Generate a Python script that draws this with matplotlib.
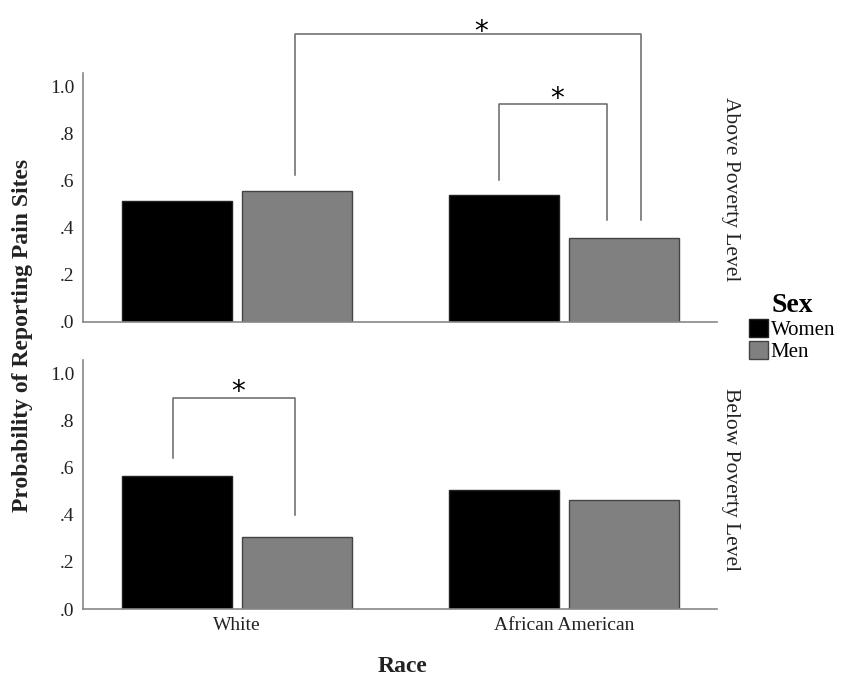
import numpy as np
import matplotlib
matplotlib.use('Agg')
import matplotlib.pyplot as plt
from matplotlib.patches import Patch

plt.rcParams['font.family'] = 'Liberation Serif'

# data
races = ['White', 'African American']
panels = ['Above Poverty Level', 'Below Poverty Level']
women_above = [0.513, 0.538]
men_above = [0.555, 0.356]
women_below = [0.565, 0.506]
men_below = [0.304, 0.460]
ytick_vals = [0.0, 0.2, 0.4, 0.6, 0.8, 1.0]
ytick_labels = ['.0', '.2', '.4', '.6', '.8', '1.0']

c_women = '#000000'
c_men = '#808080'
c_line = '#666666'

fig = plt.figure(figsize=(8.43, 6.77), dpi=100)
ax_top = fig.add_axes([0.0985, 0.5244, 0.752, 0.3676])
ax_bot = fig.add_axes([0.0985, 0.1004, 0.752, 0.3678])

x = np.arange(len(races))
w = 0.336
off = 0.184

def draw_panel(ax, women, men, label, show_x, ly):
    ax.bar(x - off, women, w, color=c_women, edgecolor='#222222', linewidth=1)
    ax.bar(x + off, men, w, color=c_men, edgecolor='#444444', linewidth=1)
    ax.set_xlim(-0.471, 1.468)
    ax.set_ylim(0, 1.055)
    ax.set_yticks(ytick_vals)
    ax.set_yticklabels(ytick_labels, fontsize=14, color='#222222')
    ax.set_xticks(x)
    if show_x:
        ax.set_xticklabels(races, fontsize=14, color='#222222')
    else:
        ax.set_xticklabels([])
    ax.tick_params(length=0, pad=6)
    for s in ['top', 'right']:
        ax.spines[s].set_visible(False)
    for s in ['left', 'bottom']:
        ax.spines[s].set_color('#888888')
        ax.spines[s].set_linewidth(1.2)
    ax.text(1.022, ly, label, transform=ax.transAxes, rotation=270,
            ha='center', va='center', fontsize=15.5, color='#222222')

def bracket(ax, x0, x1, y, y0, y1, sx, sy):
    ax.plot([x0, x0, x1, x1], [y0, y, y, y1], color=c_line, lw=1.1, clip_on=False)
    ax.text(sx, sy, '*', ha='center', va='center', fontsize=20,
            fontfamily='DejaVu Sans', clip_on=False)

draw_panel(ax_top, women_above, men_above, panels[0], False, 0.535)
draw_panel(ax_bot, women_below, men_below, panels[1], True, 0.52)

# significance brackets
bracket(ax_top, 0.177, 1.235, 1.22, 0.623, 0.432, 0.746, 1.23)
bracket(ax_top, 0.801, 1.131, 0.924, 0.60, 0.432, 0.979, 0.945)
bracket(ax_bot, -0.196, 0.177, 0.895, 0.641, 0.397, 0.003, 0.918)

fig.text(0.027, 0.505, 'Probability of Reporting Pain Sites', rotation=90,
         ha='center', va='center', fontsize=17, fontweight='bold', color='#222222')
fig.text(0.477, 0.015, 'Race', ha='center', va='center', fontsize=17,
         fontweight='bold', color='#222222')

# legend
handles = [Patch(facecolor=c_women, edgecolor='#222222'),
           Patch(facecolor=c_men, edgecolor='#444444')]
leg = fig.legend(handles, ['Women', 'Men'], loc='upper left',
                 bbox_to_anchor=(0.876, 0.582), frameon=False, fontsize=15,
                 title='Sex', title_fontproperties={'weight': 'bold', 'size': 20},
                 handlelength=0.9, handleheight=0.9, handletextpad=0.15,
                 labelspacing=0.05, borderpad=0)
leg._legend_box.align = 'center'

fig.savefig('out.png', dpi=100)
